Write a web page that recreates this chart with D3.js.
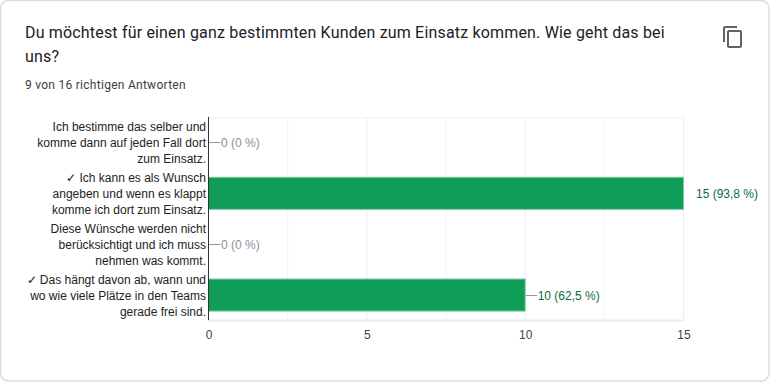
<!DOCTYPE html>
<html>
<head>
<meta charset="utf-8">
<script src="https://cdn.jsdelivr.net/npm/d3@7"></script>
<style>
html, body { margin: 0; padding: 0; background: #fff; }
svg { display: block; }
</style>
</head>
<body>
<script>
var titleLines = ["Du möchtest für einen ganz bestimmten Kunden zum Einsatz kommen. Wie geht das bei", "uns?"];
var subtitle = "9 von 16 richtigen Antworten";
var categories = [
    ["Ich bestimme das selber und", "komme dann auf jeden Fall dort", "zum Einsatz."],
    ["✓ Ich kann es als Wunsch", "angeben und wenn es klappt", "komme ich dort zum Einsatz."],
    ["Diese Wünsche werden nicht", "berücksichtigt und ich muss", "nehmen was kommt."],
    ["✓ Das hängt davon ab, wann und", "wo wie viele Plätze in den Teams", "gerade frei sind."]
];
var values = [0, 15, 0, 10];
var valueLabels = ["0 (0 %)", "15 (93,8 %)", "0 (0 %)", "10 (62,5 %)"];
var correct = [false, true, false, true];
var majorTicks = [0, 5, 10, 15];
var minorTicks = [2.5, 7.5, 12.5];

var width = 770,
    height = 382;

var svg = d3.select('body')
    .append('svg')
    .attr('width', width)
    .attr('height', height);

// card with grey edge
svg.append('rect').attr('width', width).attr('height', height).attr('fill', '#fff');
svg.append('rect')
    .attr('x', 0.5).attr('y', 0.5)
    .attr('width', width - 1.5).attr('height', height - 1.5)
    .attr('rx', 8)
    .attr('fill', '#fff')
    .attr('stroke', '#dadce0')
    .attr('stroke-width', 1.5);

svg.selectAll('text.title')
    .data(titleLines)
    .enter()
    .append('text')
    .attr('class', 'title')
    .attr('x', 25)
    .attr('y', function(d, i) { return 38 + i * 24; })
    .attr('font-family', 'Roboto')
    .attr('font-size', 16)
    .attr('letter-spacing', 0.175)
    .attr('fill', '#202124')
    .text(function(d) { return d; });

svg.append('text')
    .attr('x', 25)
    .attr('y', 89)
    .attr('font-family', 'Roboto')
    .attr('font-size', 12)
    .attr('letter-spacing', 0.27)
    .attr('fill', '#3c4043')
    .text(subtitle);

// copy icon
var icon = svg.append('g').attr('transform', 'translate(721,25)');
icon.append('path')
    .attr('d', 'M16 1H4c-1.1 0-2 .9-2 2v14h2V3h12V1zm3 4H8c-1.1 0-2 .9-2 2v14c0 1.1.9 2 2 2h11c1.1 0 2-.9 2-2V7c0-1.1-.9-2-2-2zm0 16H8V7h11v14z')
    .attr('fill', '#5f6368');

var x = d3.scaleLinear().domain([0, 15]).range([208.5, 683.5]);
var y = d3.scaleBand().domain(d3.range(categories.length)).range([117, 320.5]).paddingInner(0.37).paddingOuter(0.185);

var grid = svg.append('g');
grid.selectAll('line.minor')
    .data(minorTicks)
    .enter()
    .append('line')
    .attr('x1', x).attr('x2', x)
    .attr('y1', 117).attr('y2', 320)
    .attr('stroke', '#f3f3f3');
grid.selectAll('line.major')
    .data(majorTicks.slice(1))
    .enter()
    .append('line')
    .attr('x1', x).attr('x2', x)
    .attr('y1', 117).attr('y2', 320)
    .attr('stroke', '#ebebeb');
grid.append('line')
    .attr('x1', 208).attr('x2', 684)
    .attr('y1', 117.5).attr('y2', 117.5)
    .attr('stroke', '#f3f3f3');
grid.append('line')
    .attr('x1', 208).attr('x2', 684)
    .attr('y1', 320.5).attr('y2', 320.5)
    .attr('stroke', '#ebebeb')
    .attr('stroke-width', 2);

// bars
svg.selectAll('rect.bar')
    .data(values)
    .enter()
    .append('rect')
    .attr('class', 'bar')
    .attr('x', x(0))
    .attr('y', function(d, i) { return y(i); })
    .attr('width', function(d) { return x(d) - x(0); })
    .attr('height', y.bandwidth())
    .attr('fill', function(d) { return d > 0 ? '#0f9d58' : 'none'; })
    .attr('stroke', function(d) { return d > 0 ? '#7ccaa4' : 'none'; });

// axis line
svg.append('line')
    .attr('x1', x(0)).attr('x2', x(0))
    .attr('y1', 117).attr('y2', 320)
    .attr('stroke', '#333');

// x tick labels
var xAxis = d3.axisBottom(x).tickValues(majorTicks).tickSize(0).tickPadding(0);
var axisG = svg.append('g').attr('transform', 'translate(0,330)').call(xAxis);
axisG.select('.domain').remove();
axisG.selectAll('text')
    .attr('font-family', '"Liberation Sans"')
    .attr('font-size', 12)
    .attr('fill', '#444');

// category labels
categories.forEach(function(lines, i) {
    var cy = y(i) + y.bandwidth() / 2;
    svg.selectAll('text.cat' + i)
        .data(lines)
        .enter()
        .append('text')
        .attr('class', 'cat' + i)
        .attr('x', 206)
        .attr('y', function(d, j) { return cy + (j - 1) * 16 + 4.5; })
        .attr('text-anchor', 'end')
        .attr('font-family', '"Liberation Sans"')
        .attr('font-size', 12)
        .attr('fill', '#222')
        .text(function(d) { return d; });
});

// value labels, the leader line only when the label sits against the bar
values.forEach(function(v, i) {
    var cy = Math.round(y(i) + y.bandwidth() / 2) + 0.5;
    var outside = v === 15;
    if (!outside) {
        svg.append('line')
            .attr('x1', x(v) + 0.5).attr('x2', x(v) + 12)
            .attr('y1', cy).attr('y2', cy)
            .attr('stroke', '#999');
    }
    svg.append('text')
        .attr('x', x(v) + 12.5)
        .attr('y', cy + 4)
        .attr('font-family', '"Liberation Sans"')
        .attr('font-size', 12)
        .attr('fill', correct[i] ? '#0b6b3c' : '#8a8f9c')
        .text(valueLabels[i]);
});
</script>
</body>
</html>
